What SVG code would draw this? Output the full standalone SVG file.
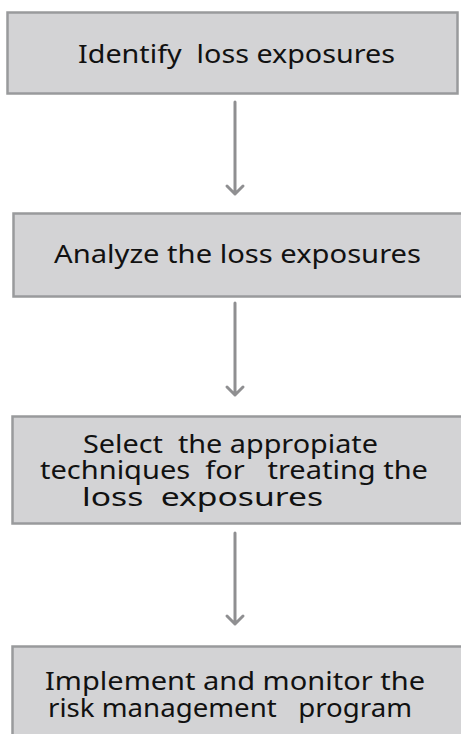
<svg xmlns="http://www.w3.org/2000/svg" width="461" height="734" viewBox="0 0 461 734">
<style>
.box{fill:#d3d3d5;stroke:#999a9c;stroke-width:2.5}
.t{font-family:"Noto Sans","Open Sans","Liberation Sans",sans-serif;font-size:26px;fill:#111}
.c{stroke:#8f8f91;stroke-width:3;fill:none;stroke-linecap:round;stroke-linejoin:round}
</style>
<rect width="461" height="734" fill="#fff"/>
<g id="node1"><rect class="box" x="7.5" y="12.5" width="450" height="81"/>
<text class="t" x="78" y="63" textLength="317" lengthAdjust="spacingAndGlyphs" xml:space="preserve">Identify  loss exposures</text></g>
<g id="node2"><rect class="box" x="13.5" y="213.5" width="460" height="83"/>
<text class="t" x="54" y="263" textLength="367" lengthAdjust="spacingAndGlyphs">Analyze the loss exposures</text></g>
<g id="node3"><rect class="box" x="12.5" y="416.5" width="460" height="107"/>
<text class="t" x="83" y="453" textLength="295" lengthAdjust="spacingAndGlyphs" xml:space="preserve">Select  the appropiate</text>
<text class="t" x="40" y="479" textLength="388" lengthAdjust="spacingAndGlyphs" xml:space="preserve">techniques  for   treating the</text>
<text class="t" x="82" y="506" textLength="241" lengthAdjust="spacingAndGlyphs" xml:space="preserve">loss  exposures</text></g>
<g id="node4"><rect class="box" x="12.5" y="646.5" width="460" height="100"/>
<text class="t" x="45" y="690" textLength="380" lengthAdjust="spacingAndGlyphs">Implement and monitor the</text>
<text class="t" x="48" y="717" textLength="364" lengthAdjust="spacingAndGlyphs" xml:space="preserve">risk management   program</text></g>
<g id="connectors">
<path class="c" d="M235 102V194M227 186L235 194L243 186"/>
<path class="c" d="M235 303V395M227 387L235 395L243 387"/>
<path class="c" d="M235 533V624M227 616L235 624L243 616"/>
</g>
</svg>
